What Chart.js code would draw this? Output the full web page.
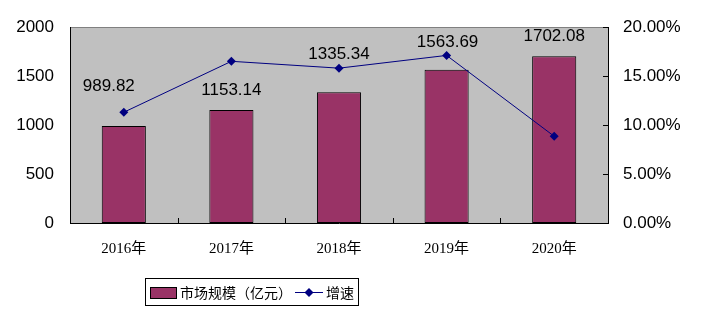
<!DOCTYPE html>
<html>
<head>
<meta charset="utf-8">
<script src="https://cdn.jsdelivr.net/npm/chart.js@4/dist/chart.umd.min.js"></script>
<style>
  body { margin: 0; background: #fff; }
</style>
</head>
<body>
<canvas id="chart" width="702" height="324"></canvas>
<script>
// data
var categories = ['2016年', '2017年', '2018年', '2019年', '2020年'];
var marketSize = [989.82, 1153.14, 1335.34, 1563.69, 1702.08];
var growthRate = [11.3, 16.5, 15.8, 17.1, 8.85]; // percent
var sizeLabel = '市场规模（亿元）';
var growthLabel = '增速';

// where each value label sits, relative to its bar top (px)
var labelShift = [[-15, -40], [0, -20], [0, -38], [1, -27], [0, -20]];

var sansFont = '"Liberation Sans", Arial, sans-serif';
var cjkFont = '"Liberation Serif", "Noto Sans CJK SC", serif';

var plotDecor = {
  id: 'plotDecor',
  beforeDraw: function (chart) {
    var a = chart.chartArea, c = chart.ctx;
    c.save();
    c.fillStyle = '#C0C0C0';
    c.fillRect(a.left, a.top, a.right - a.left, a.bottom - a.top);
    c.strokeStyle = '#808080';
    c.lineWidth = 1;
    c.beginPath();
    c.moveTo(a.left, a.top + 0.5);
    c.lineTo(a.right, a.top + 0.5);
    c.stroke();
    c.restore();
  },
  afterDatasetsDraw: function (chart) {
    var a = chart.chartArea, c = chart.ctx;
    var x = chart.scales.x, y1 = chart.scales.y1;
    c.save();
    c.strokeStyle = '#000';
    c.lineWidth = 1;
    c.beginPath();
    for (var i = 0; i < categories.length - 1; i++) {
      var px = Math.round((x.getPixelForValue(i) + x.getPixelForValue(i + 1)) / 2) + 0.5;
      c.moveTo(px, a.bottom);
      c.lineTo(px, a.bottom - 5);
    }
    y1.ticks.forEach(function (t) {
      var py = Math.round(y1.getPixelForValue(t.value)) + 0.5;
      c.moveTo(a.right, py);
      c.lineTo(a.right - 5, py);
    });
    c.stroke();

    // value labels above the bars
    var meta = chart.getDatasetMeta(1);
    c.fillStyle = '#000';
    c.font = '17px ' + sansFont;
    c.textAlign = 'center';
    c.textBaseline = 'middle';
    meta.data.forEach(function (bar, i) {
      c.fillText(marketSize[i].toFixed(2), bar.x + labelShift[i][0], bar.y + labelShift[i][1]);
    });
    c.restore();
  },
  afterDraw: function (chart) {
    var c = chart.ctx;
    c.save();
    // legend box
    c.strokeStyle = '#000';
    c.lineWidth = 1;
    c.strokeRect(145.5, 278.5, 213, 27);
    c.fillStyle = '#993366';
    c.fillRect(150, 287, 26, 11);
    c.strokeRect(150.5, 287.5, 26, 11);
    c.fillStyle = '#000';
    c.font = '14px "Noto Sans CJK SC", sans-serif';
    c.textBaseline = 'middle';
    c.textAlign = 'left';
    c.fillText(sizeLabel, 180, 292.5);
    c.strokeStyle = '#000080';
    c.beginPath();
    c.moveTo(295, 292.5);
    c.lineTo(323, 292.5);
    c.stroke();
    c.fillStyle = '#000080';
    c.beginPath();
    c.moveTo(309, 288);
    c.lineTo(313.5, 292.5);
    c.lineTo(309, 297);
    c.lineTo(304.5, 292.5);
    c.closePath();
    c.fill();
    c.fillStyle = '#000';
    c.fillText(growthLabel, 326, 292.5);
    c.restore();
  }
};

var ctx = document.getElementById('chart').getContext('2d');
var chart = new Chart(ctx, {
  type: 'bar',
  data: {
    labels: categories,
    datasets: [{
      type: 'line',
      label: growthLabel,
      data: growthRate,
      yAxisID: 'y1',
      borderColor: '#000080',
      backgroundColor: '#000080',
      borderWidth: 1,
      pointStyle: 'rectRot',
      pointRadius: 4.5,
      pointBorderWidth: 0,
      tension: 0,
      order: 0
    }, {
      label: sizeLabel,
      data: marketSize,
      yAxisID: 'y',
      backgroundColor: '#993366',
      borderColor: '#000',
      borderWidth: 1,
      borderSkipped: false,
      categoryPercentage: 1,
      barPercentage: 0.41,
      order: 1
    }]
  },
  options: {
    responsive: false,
    animation: false,
    devicePixelRatio: 1,
    layout: { padding: { top: 27, left: 0, right: 0, bottom: 0 } },
    plugins: {
      legend: { display: false },
      tooltip: { enabled: false }
    },
    scales: {
      x: {
        grid: { display: false, drawTicks: false },
        border: { color: '#000', width: 1 },
        ticks: { color: '#000', font: { family: cjkFont, size: 15 }, padding: 17 },
        afterFit: function (s) { s.height = 101; }
      },
      y: {
        position: 'left',
        min: 0,
        max: 2000,
        grid: { display: false, drawTicks: false },
        border: { color: '#000', width: 1 },
        ticks: {
          stepSize: 500,
          color: '#000',
          font: { family: sansFont, size: 17 },
          padding: 16,
          callback: function (v) { return String(v); }
        },
        afterFit: function (s) { s.width = 70; }
      },
      y1: {
        position: 'right',
        min: 0,
        max: 20,
        grid: { display: false, drawTicks: false },
        border: { color: '#000', width: 1 },
        ticks: {
          stepSize: 5,
          color: '#000',
          font: { family: sansFont, size: 17 },
          padding: 15,
          callback: function (v) { return v.toFixed(2) + '%'; }
        },
        afterFit: function (s) { s.width = 94; }
      }
    }
  },
  plugins: [plotDecor]
});
</script>
</body>
</html>
